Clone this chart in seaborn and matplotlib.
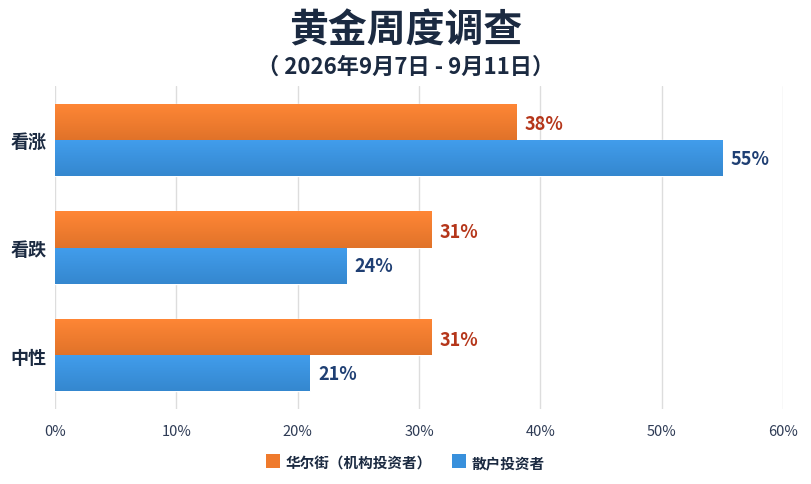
import numpy as np
import pandas as pd
import matplotlib
matplotlib.use('Agg')
import matplotlib.pyplot as plt
import seaborn as sns
from matplotlib.ticker import FuncFormatter
from matplotlib.patches import Rectangle

# datos del gráfico
categorias = ['看涨', '看跌', '中性']
grupos = ['华尔街（机构投资者）', '散户投资者']
valores_wall = [38, 31, 31]
valores_retail = [55, 24, 21]

df = pd.DataFrame({
    'categoria': categorias * 2,
    'grupo': [grupos[0]] * 3 + [grupos[1]] * 3,
    'valor': valores_wall + valores_retail,
})

color_naranja = '#EF7A2C'
color_azul = '#3890DC'
color_txt_naranja = '#B5361A'
color_txt_azul = '#1F3F73'
color_titulo = '#1B2A41'

sns.set_theme(style='white')
plt.rcParams['font.family'] = ['Noto Sans CJK SC', 'DejaVu Sans']

W, H = 811, 485
fig = plt.figure(figsize=(W / 100, H / 100), dpi=100)
ax = fig.add_axes([55 / W, 1 - 410 / H, 728 / W, 323 / H])

sns.barplot(data=df, y='categoria', x='valor', hue='grupo', orient='h',
            palette=[color_naranja, color_azul], width=0.67, ax=ax,
            legend=False, saturation=1, zorder=3)

# degradado suave sobre cada barra
grad = np.linspace(0, 1, 64).reshape(-1, 1)
for patch in ax.patches:
    x0, y0 = patch.get_x(), patch.get_y()
    w, h = patch.get_width(), patch.get_height()
    base = np.array(matplotlib.colors.to_rgb(patch.get_facecolor()))
    claro = np.clip(base * 1.04 + 0.03, 0, 1)
    oscuro = base * 0.94
    img = claro[None, None, :] * (1 - grad[:, :, None]) + oscuro[None, None, :] * grad[:, :, None]
    im = ax.imshow(img, extent=[x0, x0 + w, y0 + h, y0], aspect='auto',
                   zorder=4, interpolation='bilinear')
    im.set_clip_path(patch)

ax.set_xlim(0, 60)
ax.set_ylim(2.5, -0.5)
ax.set_xticks(range(0, 61, 10))
ax.xaxis.set_major_formatter(FuncFormatter(lambda v, p: f'{int(v)}%'))
ax.grid(axis='x', color='#DDDDDD', linewidth=1, zorder=0)
ax.grid(axis='y', visible=False)
for s in ax.spines.values():
    s.set_visible(False)
ax.set_xlabel('')
ax.set_ylabel('')
ax.tick_params(axis='x', labelsize=10.5, colors='#2E3B55', length=0, pad=11)
ax.tick_params(axis='y', labelsize=13, length=0, pad=6)
for t in ax.get_yticklabels():
    t.set_fontweight('bold')
    t.set_color(color_titulo)

# etiquetas de valores
for i, (vw, vr) in enumerate(zip(valores_wall, valores_retail)):
    ax.text(vw + 0.7, i - 0.15, f'{vw}%', va='center', ha='left', fontsize=13,
            fontweight='bold', color=color_txt_naranja, zorder=5)
    ax.text(vr + 0.7, i + 0.17, f'{vr}%', va='center', ha='left', fontsize=13,
            fontweight='bold', color=color_txt_azul, zorder=5)

fig.text(0.5, 1 - 31 / H, '黄金周度调查', ha='center', va='center', fontsize=28,
         fontweight='bold', color=color_titulo)
fig.text(0.5, 1 - 67 / H, '（ 2026年9月7日 - 9月11日）', ha='center', va='center',
         fontsize=16, fontweight='bold', color=color_titulo)

# leyenda manual (cuadro + texto alineados)
ley_y = 462
for x_cuadro, color, texto in [(266, color_naranja, grupos[0]), (452, color_azul, grupos[1])]:
    fig.patches.append(Rectangle((x_cuadro / W, 1 - (ley_y + 7) / H), 14 / W, 14 / H,
                                 transform=fig.transFigure, facecolor=color, edgecolor='none'))
    fig.text((x_cuadro + 20) / W, 1 - ley_y / H, texto, ha='left', va='center_baseline',
             fontsize=10.5, fontweight='bold', color=color_titulo)

fig.savefig('out.png', dpi=100, facecolor='white')
